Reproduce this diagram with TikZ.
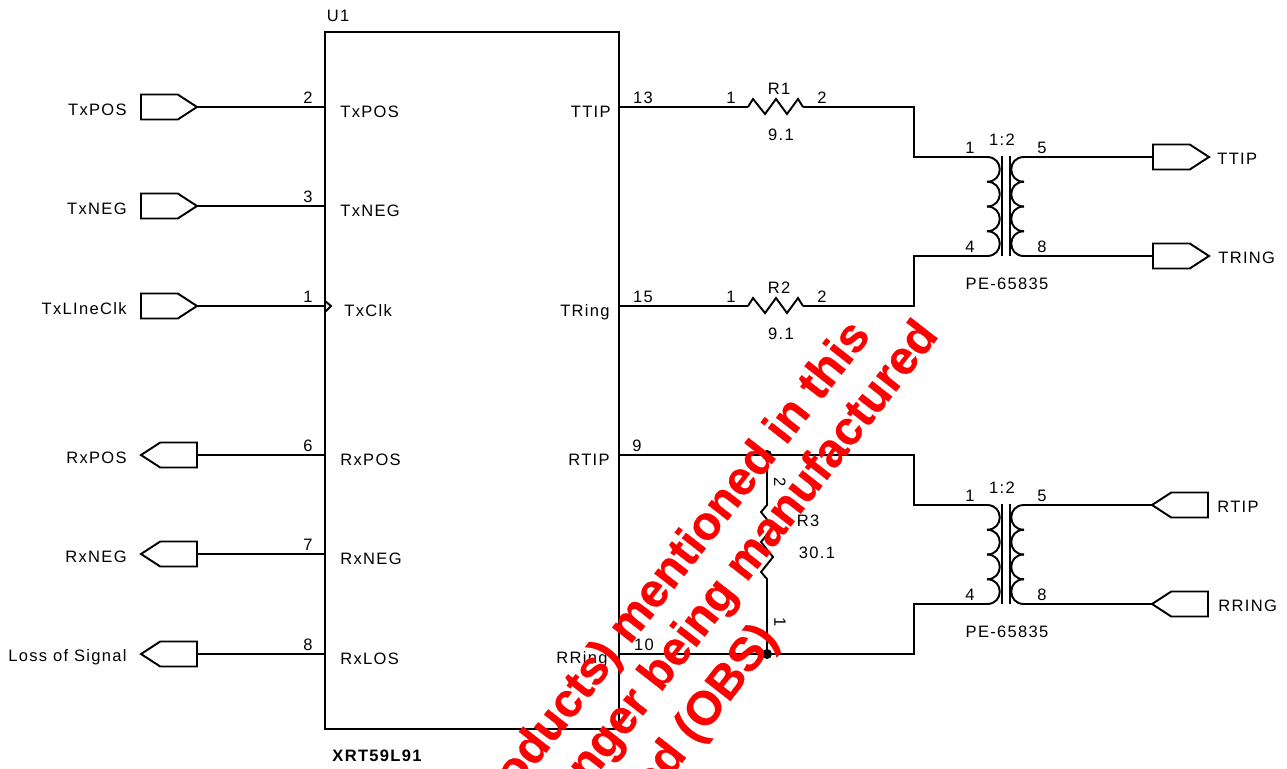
\documentclass[tikz,border=0pt]{standalone}
\usepackage{fontspec}
\setmainfont[LetterSpace=8]{Liberation Sans}
\newfontfamily\stampfont[FakeBold=0.6]{Liberation Sans Bold}
\usetikzlibrary{shapes.symbols}
\tikzset{
  wire/.style={line width=1.1pt},
  txt/.style={inner sep=0pt,yshift=-0.6pt,font=\fontsize{9.4}{11}\selectfont},
  flagin/.style={draw,wire,signal,signal to=east,signal pointer angle=66,minimum width=1.12cm,minimum height=0.5cm,inner sep=0pt,outer sep=0pt,anchor=west},
  flagout/.style={draw,wire,signal,signal to=west,signal pointer angle=66,minimum width=1.12cm,minimum height=0.5cm,inner sep=0pt,outer sep=0pt,anchor=east},
  stamp/.style={inner sep=0pt,text=red,rotate=52,anchor=south east,font=\stampfont\fontsize{27}{27}\selectfont}
}
\begin{document}
\begin{tikzpicture}[x=0.02cm,y=-0.02cm]
\clip (0,0) rectangle (1287,768);

% Draw the chip outline
\draw[wire] (325,32) rectangle (619,729);
\node[txt] (refU) at (338,15) {U1};
\node[txt,font=\fontsize{9.4}{11}\selectfont\bfseries] (partU) at (377,755) {XRT59L91};

% Input pins on the left
\foreach \y/\nm/\ext/\pin/\int in {107/TxPOS/TxPOS/2/TxPOS,206/TxNEG/TxNEG/3/TxNEG,306/TxClk/TxLIneClk/1/TxClk}{
\node[flagin] (f\nm) at (141,\y) {};
\node[txt,anchor=east] (e\nm) at (127,\y+2) {\ext};
\coordinate (p\nm) at (325,\y);
\draw[wire] (f\nm.east) -- (p\nm);
\node[txt] (n\nm) at (308,\y-10) {\pin};
}
% Output pins on the left
\foreach \y/\nm/\ext/\pin/\int in {455/RxPOS/RxPOS/6/RxPOS,554/RxNEG/RxNEG/7/RxNEG,654/RxLOS/Loss of Signal/8/RxLOS}{
\node[flagout] (f\nm) at (197,\y) {};
\node[txt,anchor=east] (e\nm) at (127,\y+2) {\ext};
\coordinate (p\nm) at (325,\y);
\draw[wire] (f\nm.east) -- (p\nm);
\node[txt] (n\nm) at (308,\y-10) {\pin};
\node[txt,anchor=west] (i\nm) at (340,\y+4) {\int};
}

% Names inside the chip
\node[txt,anchor=west] (iTxPOS) at (340,111) {TxPOS};
\node[txt,anchor=west] (iTxNEG) at (340,210) {TxNEG};
\node[txt,anchor=west] (iTxClk) at (344,310) {TxClk};
\node[txt,anchor=east] (iTTIP) at (611,111) {TTIP};
\node[txt,anchor=east] (iTRing) at (610,311) {TRing};
\node[txt,anchor=east] (iRTIP) at (610,459) {RTIP};
\node[txt,anchor=east] (iRRing) at (608,658) {RRing};

% Clock mark
\draw[wire] (325,301) -- (331,306) -- (325,312);

% Pins on the right
\coordinate (pTTIP) at (619,107);
\coordinate (pTRing) at (619,306);
\coordinate (pRTIP) at (619,455);
\coordinate (pRRing) at (619,654);
\node[txt] (nTTIP) at (643,97) {13};
\node[txt] (nTRing) at (643,296) {15};
\node[txt] (nRTIP) at (637,445) {9};
\node[txt] (nRRing) at (644,644) {10};

% Series resistors
\foreach \y/\r in {107/1,306/2}{
\coordinate (ra\r) at (748,\y);
\coordinate (rb\r) at (803,\y);
\draw[wire] (ra\r) -- (753,\y-8) -- (765,\y+7) -- (776,\y-8) -- (787,\y+7) -- (798,\y-8) -- (rb\r);
\node[txt] (na\r) at (731,\y-10) {1};
\node[txt] (nb\r) at (822,\y-10) {2};
\node[txt] (R\r) at (779,\y-19) {R\r};
\node[txt] (v\r) at (781,\y+27) {9.1};
}

% Transformers
\foreach \t/\a/\b in {0/TA/TB,348/RA/RB}{
\coordinate (x1\a) at (987,157+\t);
\coordinate (x4\a) at (987,256+\t);
\coordinate (x5\a) at (1024,157+\t);
\coordinate (x8\a) at (1024,256+\t);
\foreach \k in {0,1,2,3}{
\draw[wire] (987,{157+\t+24.75*\k}) .. controls (1004,{157+\t+24.75*\k}) and (1004,{157+\t+24.75*(\k+1)}) .. (987,{157+\t+24.75*(\k+1)});
\draw[wire] (1024,{157+\t+24.75*\k}) .. controls (1007,{157+\t+24.75*\k}) and (1007,{157+\t+24.75*(\k+1)}) .. (1024,{157+\t+24.75*(\k+1)});
}
\draw[wire] (1002,156+\t) -- (1002,256+\t);
\draw[wire] (1010,156+\t) -- (1010,256+\t);
\node[txt] (m1\a) at (970,147+\t) {1};
\node[txt] (m4\a) at (970,246+\t) {4};
\node[txt] (m5\a) at (1042,147+\t) {5};
\node[txt] (m8\a) at (1042,246+\t) {8};
\node[txt] (ratio\a) at (1002,139+\t) {1:2};
\node[txt] (part\a) at (1007,283+\t) {PE-65835};
}

% Wires to the transformers
\draw[wire] (pTTIP) -- (ra1);
\draw[wire] (rb1) -- (914,107) -- (914,157) -- (x1TA);
\draw[wire] (pTRing) -- (ra2);
\draw[wire] (rb2) -- (914,306) -- (914,256) -- (x4TA);
\draw[wire] (pRTIP) -- (914,455) -- (914,505) -- (x1RA);
\draw[wire] (pRRing) -- (914,654) -- (914,604) -- (x4RA);

% Outputs on the far right
\node[flagin] (fTTIP) at (1153,157) {};
\node[flagin] (fTRING) at (1153,256) {};
\node[flagout] (fRTIP) at (1208,505) {};
\node[flagout] (fRRING) at (1208,604) {};
\draw[wire] (x5TA) -- (fTTIP.west);
\draw[wire] (x8TA) -- (fTRING.west);
\draw[wire] (x5RA) -- (fRTIP.west);
\draw[wire] (x8RA) -- (fRRING.west);
\node[txt,anchor=west] (eTTIP) at (1217,158) {TTIP};
\node[txt,anchor=west] (eTRING) at (1218,257) {TRING};
\node[txt,anchor=west] (eRTIP) at (1217,506) {RTIP};
\node[txt,anchor=west] (eRRING) at (1218,605) {RRING};

% Termination resistor
\fill (767,455) circle (5) coordinate (dotA);
\fill (767,654) circle (5) coordinate (dotB);
\draw[wire] (dotA) -- (767,505) -- (761,512) -- (773,527) -- (761,542) -- (773,557) -- (761,572) -- (767,579) -- (dotB);
\node[txt,rotate=-90] (n2) at (780,481) {2};
\node[txt,rotate=-90] (n1) at (780,621) {1};
\node[txt] (R3) at (808,520) {R3};
\node[txt] (v3) at (817,552) {30.1};

% Red stamp across the drawing
\node[stamp] (stampA) at (880,342) {oducts) mentioned in this};
\node[stamp] (stampB) at (948,342) {nger being manufactured};
\node[stamp] (stampC) at (787,645) {ed (OBS)};
\end{tikzpicture}
\end{document}
